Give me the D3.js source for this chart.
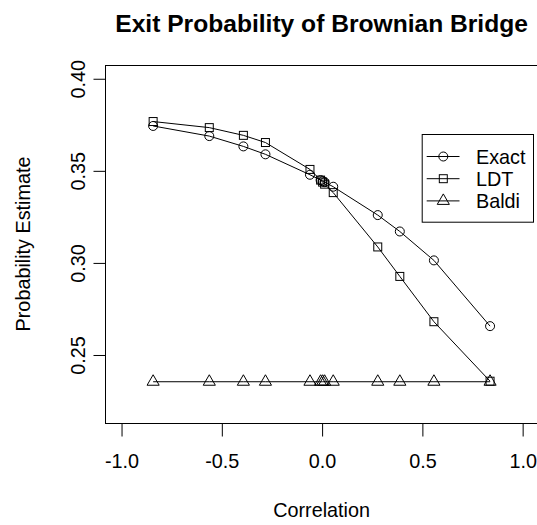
<!DOCTYPE html>
<html>
<head>
<meta charset="utf-8">
<script src="https://cdn.jsdelivr.net/npm/d3@7"></script>
<style>
  html, body { margin: 0; padding: 0; background: #fff; }
  svg { display: block; }
  text { font-family: "Liberation Sans", Arial, Helvetica, sans-serif; fill: #000; }
</style>
</head>
<body>
<svg id="chart" width="537" height="525"></svg>
<script>
// ---- data ----
const correlation = [-0.84, -0.56, -0.39, -0.28, -0.058, -0.005, 0.005, 0.015, 0.058, 0.28, 0.39, 0.56, 0.84];
const exact = [0.3741, 0.3686, 0.3630, 0.3587, 0.3476, 0.3447, 0.3441, 0.3436, 0.3411, 0.3257, 0.3168, 0.3011, 0.2654];
const ldt   = [0.3765, 0.3732, 0.3690, 0.3651, 0.3505, 0.3447, 0.3436, 0.3425, 0.3379, 0.3084, 0.2924, 0.2678, 0.2355];
const baldi = [0.2352, 0.2352, 0.2352, 0.2352, 0.2352, 0.2352, 0.2352, 0.2352, 0.2352, 0.2352, 0.2352, 0.2352, 0.2352];
const xTicks = [-1.0, -0.5, 0.0, 0.5, 1.0];
const yTicks = [0.25, 0.30, 0.35, 0.40];
const seriesNames = ["Exact", "LDT", "Baldi"];
const seriesShapes = ["circle", "square", "triangle"];
const xlim = [-1, 1];
const ylim = [0.22, 0.40];

const svg = d3.select("#chart");
const plot = { left: 105, top: 65, right: 538.2, bottom: 423 };
const ext = (lim) => { const r = (lim[1] - lim[0]) * 0.04; return [lim[0] - r, lim[1] + r]; };

const x = d3.scaleLinear().domain(ext(xlim)).range([plot.left, plot.right]);
const y = d3.scaleLinear().domain(ext(ylim)).range([plot.bottom, plot.top]);

const base = 19.8;
const fmt = (v) => d3.format(".1f")(v).replace("\u2212", "-");
const fmtY = (v) => d3.format(".2f")(v);

// title
svg.append("text")
  .attr("x", (plot.left + plot.right) / 2).attr("y", 31.7)
  .attr("text-anchor", "middle")
  .style("font-weight", "bold").style("font-size", "24.6px")
  .text("Exit Probability of Brownian Bridge");

// box
svg.append("rect")
  .attr("x", plot.left + 0.5).attr("y", plot.top + 0.5)
  .attr("width", plot.right - plot.left).attr("height", plot.bottom - plot.top)
  .attr("fill", "none").attr("stroke", "#000").attr("stroke-width", 1);

// x axis
const xAxis = d3.axisBottom(x).tickValues(xTicks).tickSize(13).tickFormat(fmt);
const gx = svg.append("g").attr("transform", `translate(0.5,${plot.bottom + 0.5})`).call(xAxis);
gx.select(".domain").attr("d", `M${x(xTicks[0])},0H${x(xTicks[xTicks.length - 1])}`).attr("stroke", "#000");
gx.selectAll(".tick line").attr("stroke", "#000");
gx.selectAll(".tick text").attr("y", null).attr("dy", null)
  .attr("transform", "translate(0,44.5)")
  .style("font-size", base + "px").style("font-family", "Liberation Sans, Arial, sans-serif").attr("fill", "#000");

// y axis
const yAxis = d3.axisLeft(y).tickValues(yTicks).tickSize(12).tickFormat(fmtY);
const gy = svg.append("g").attr("transform", `translate(${plot.left + 0.5},0.5)`).call(yAxis);
gy.select(".domain").attr("d", `M0,${y(yTicks[0])}V${y(yTicks[yTicks.length - 1])}`).attr("stroke", "#000");
gy.selectAll(".tick line").attr("stroke", "#000");
gy.selectAll(".tick text")
  .attr("x", null).attr("dy", null).attr("y", null)
  .attr("text-anchor", "middle")
  .attr("transform", "translate(-20.5,0) rotate(-90)")
  .style("font-size", base + "px").style("font-family", "Liberation Sans, Arial, sans-serif").attr("fill", "#000");

// axis titles
svg.append("text")
  .attr("x", (plot.left + plot.right) / 2).attr("y", 516.5)
  .attr("text-anchor", "middle").style("font-size", base + "px")
  .text("Correlation");
svg.append("text")
  .attr("transform", `translate(30,${(plot.top + plot.bottom) / 2}) rotate(-90)`)
  .attr("text-anchor", "middle").style("font-size", base + "px")
  .text("Probability Estimate");

// symbols
const R = 4.5;
function drawSymbol(g, shape, cx, cy) {
  if (shape === "circle") {
    g.append("circle").attr("cx", cx).attr("cy", cy).attr("r", R)
      .attr("fill", "none").attr("stroke", "#000").attr("stroke-width", 1);
  } else if (shape === "square") {
    const h = R * 0.88622;
    g.append("rect").attr("x", cx - h).attr("y", cy - h).attr("width", 2 * h).attr("height", 2 * h)
      .attr("fill", "none").attr("stroke", "#000").attr("stroke-width", 1);
  } else {
    const TRC0 = Math.sqrt(4 * Math.PI / (3 * Math.sqrt(3)));
    const r = TRC0 * R, yc = TRC0 / 2 * R, xc = TRC0 * Math.sqrt(3) / 2 * R;
    g.append("path")
      .attr("d", `M${cx},${cy - r}L${cx + xc},${cy + yc}L${cx - xc},${cy + yc}Z`)
      .attr("fill", "none").attr("stroke", "#000").attr("stroke-width", 1);
  }
}

const seriesData = [exact, ldt, baldi];
const line = d3.line().x((d, i) => x(correlation[i])).y(d => y(d));
const gPlot = svg.append("g");
seriesData.forEach((vals, k) => {
  const g = gPlot.append("g");
  vals.forEach((v, i) => drawSymbol(g, seriesShapes[k], x(correlation[i]), y(v)));
  g.append("path").datum(vals).attr("d", line)
    .attr("fill", "none").attr("stroke", "#000").attr("stroke-width", 1);
});

// legend
const leg = { left: 421.7, top: 134, right: 533, bottom: 221.7 };
const lg = svg.append("g");
lg.append("rect").attr("x", leg.left + 0.5).attr("y", leg.top + 0.5)
  .attr("width", leg.right - leg.left).attr("height", leg.bottom - leg.top)
  .attr("fill", "#fff").attr("stroke", "#000").attr("stroke-width", 1);
const entryY = [156, 178.2, 200.4];
seriesNames.forEach((name, k) => {
  const ey = entryY[k] + 0.5;
  lg.append("line").attr("x1", 426.7).attr("x2", 459.5).attr("y1", ey).attr("y2", ey)
    .attr("stroke", "#000").attr("stroke-width", 1);
  drawSymbol(lg, seriesShapes[k], 443.3, ey);
  lg.append("text").attr("x", 476).attr("y", ey + 7)
    .style("font-size", base + "px").text(name);
});
</script>
</body>
</html>
